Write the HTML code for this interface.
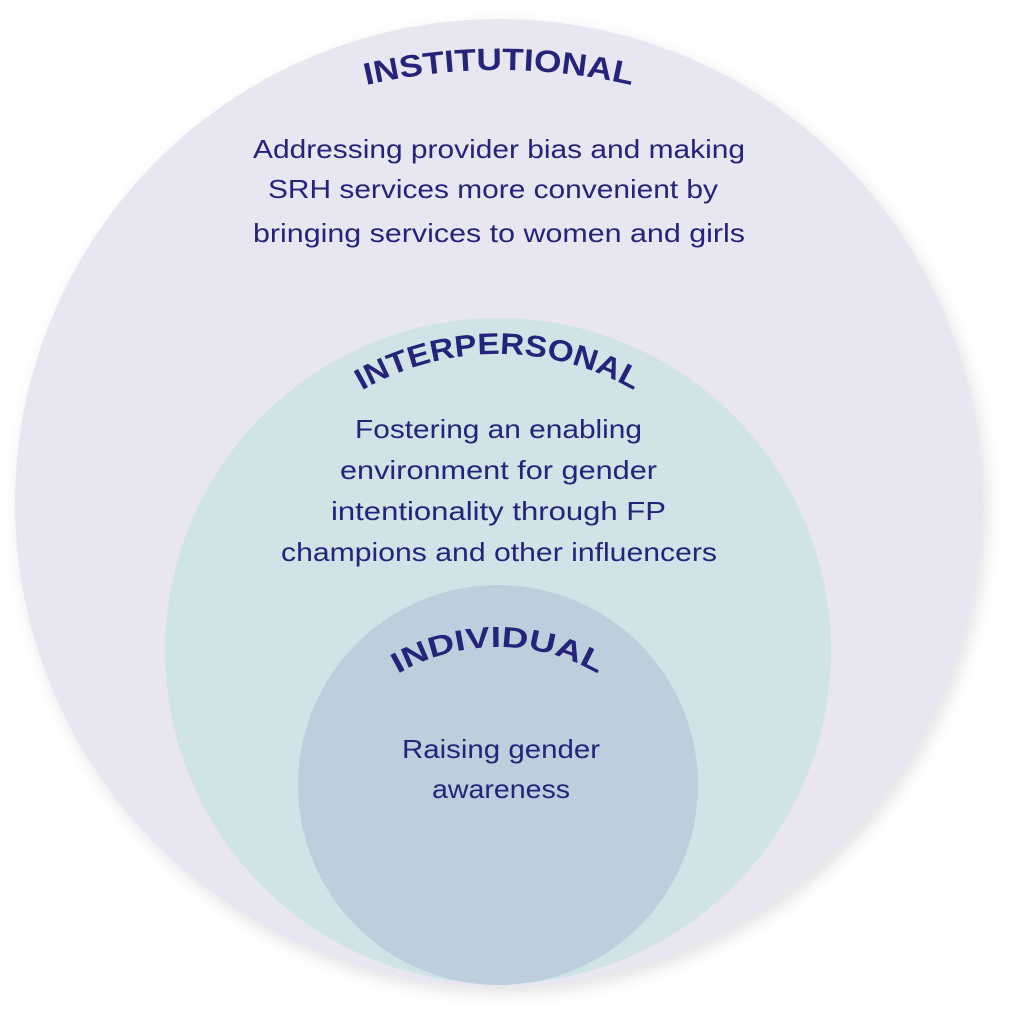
<!DOCTYPE html>
<html><head><meta charset="utf-8"><style>
html,body{margin:0;padding:0;background:#fff;}
svg{display:block;}
text{font-family:"Liberation Sans",sans-serif;fill:#25237a;}
.b{font-size:26px;}
.t{font-weight:bold;}
</style></head><body>
<svg width="1022" height="1024" viewBox="0 0 1022 1024" xmlns="http://www.w3.org/2000/svg">
<defs>
<filter id="sh" x="-10%" y="-10%" width="120%" height="120%">
<feGaussianBlur in="SourceAlpha" stdDeviation="8"/>
<feOffset dx="4" dy="6"/>
<feComponentTransfer><feFuncA type="linear" slope="0.12"/></feComponentTransfer>
<feMerge><feMergeNode/><feMergeNode in="SourceGraphic"/></feMerge>
</filter>
<path id="a1" d="M -91 660 A 590 590 0 0 1 1089 660"/>
<path id="a2" d="M 226 626 A 272 272 0 0 1 770 626"/>
<path id="a3" d="M 298 847 A 200 200 0 0 1 698 847"/>
</defs>
<circle cx="499" cy="503" r="484" fill="#e8e7f1" filter="url(#sh)"/>
<circle cx="498" cy="651" r="333" fill="#d0e3e7"/>
<circle cx="498" cy="785" r="200" fill="#bdcfdd"/>

<text class="t" font-size="31"><textPath href="#a1" startOffset="50%" text-anchor="middle" textLength="268" lengthAdjust="spacingAndGlyphs">INSTITUTIONAL</textPath></text>
<text class="t" font-size="30"><textPath href="#a2" startOffset="50%" text-anchor="middle" textLength="285" lengthAdjust="spacingAndGlyphs">INTERPERSONAL</textPath></text>
<text class="t" font-size="29"><textPath href="#a3" startOffset="50%" text-anchor="middle" textLength="210" lengthAdjust="spacingAndGlyphs">INDIVIDUAL</textPath></text>

<text class="b" x="253" y="158" textLength="492" lengthAdjust="spacingAndGlyphs">Addressing provider bias and making</text>
<text class="b" x="268" y="198" textLength="450" lengthAdjust="spacingAndGlyphs">SRH services more convenient by</text>
<text class="b" x="253" y="242" textLength="492" lengthAdjust="spacingAndGlyphs">bringing services to women and girls</text>

<text class="b" x="355" y="438" textLength="287" lengthAdjust="spacingAndGlyphs">Fostering an enabling</text>
<text class="b" x="340" y="479" textLength="317" lengthAdjust="spacingAndGlyphs">environment for gender</text>
<text class="b" x="331" y="520" textLength="335" lengthAdjust="spacingAndGlyphs">intentionality through FP</text>
<text class="b" x="281" y="561" textLength="436" lengthAdjust="spacingAndGlyphs">champions and other influencers</text>

<text class="b" x="402" y="758" textLength="198" lengthAdjust="spacingAndGlyphs">Raising gender</text>
<text class="b" x="432" y="798" textLength="138" lengthAdjust="spacingAndGlyphs">awareness</text>
</svg>
</body></html>
